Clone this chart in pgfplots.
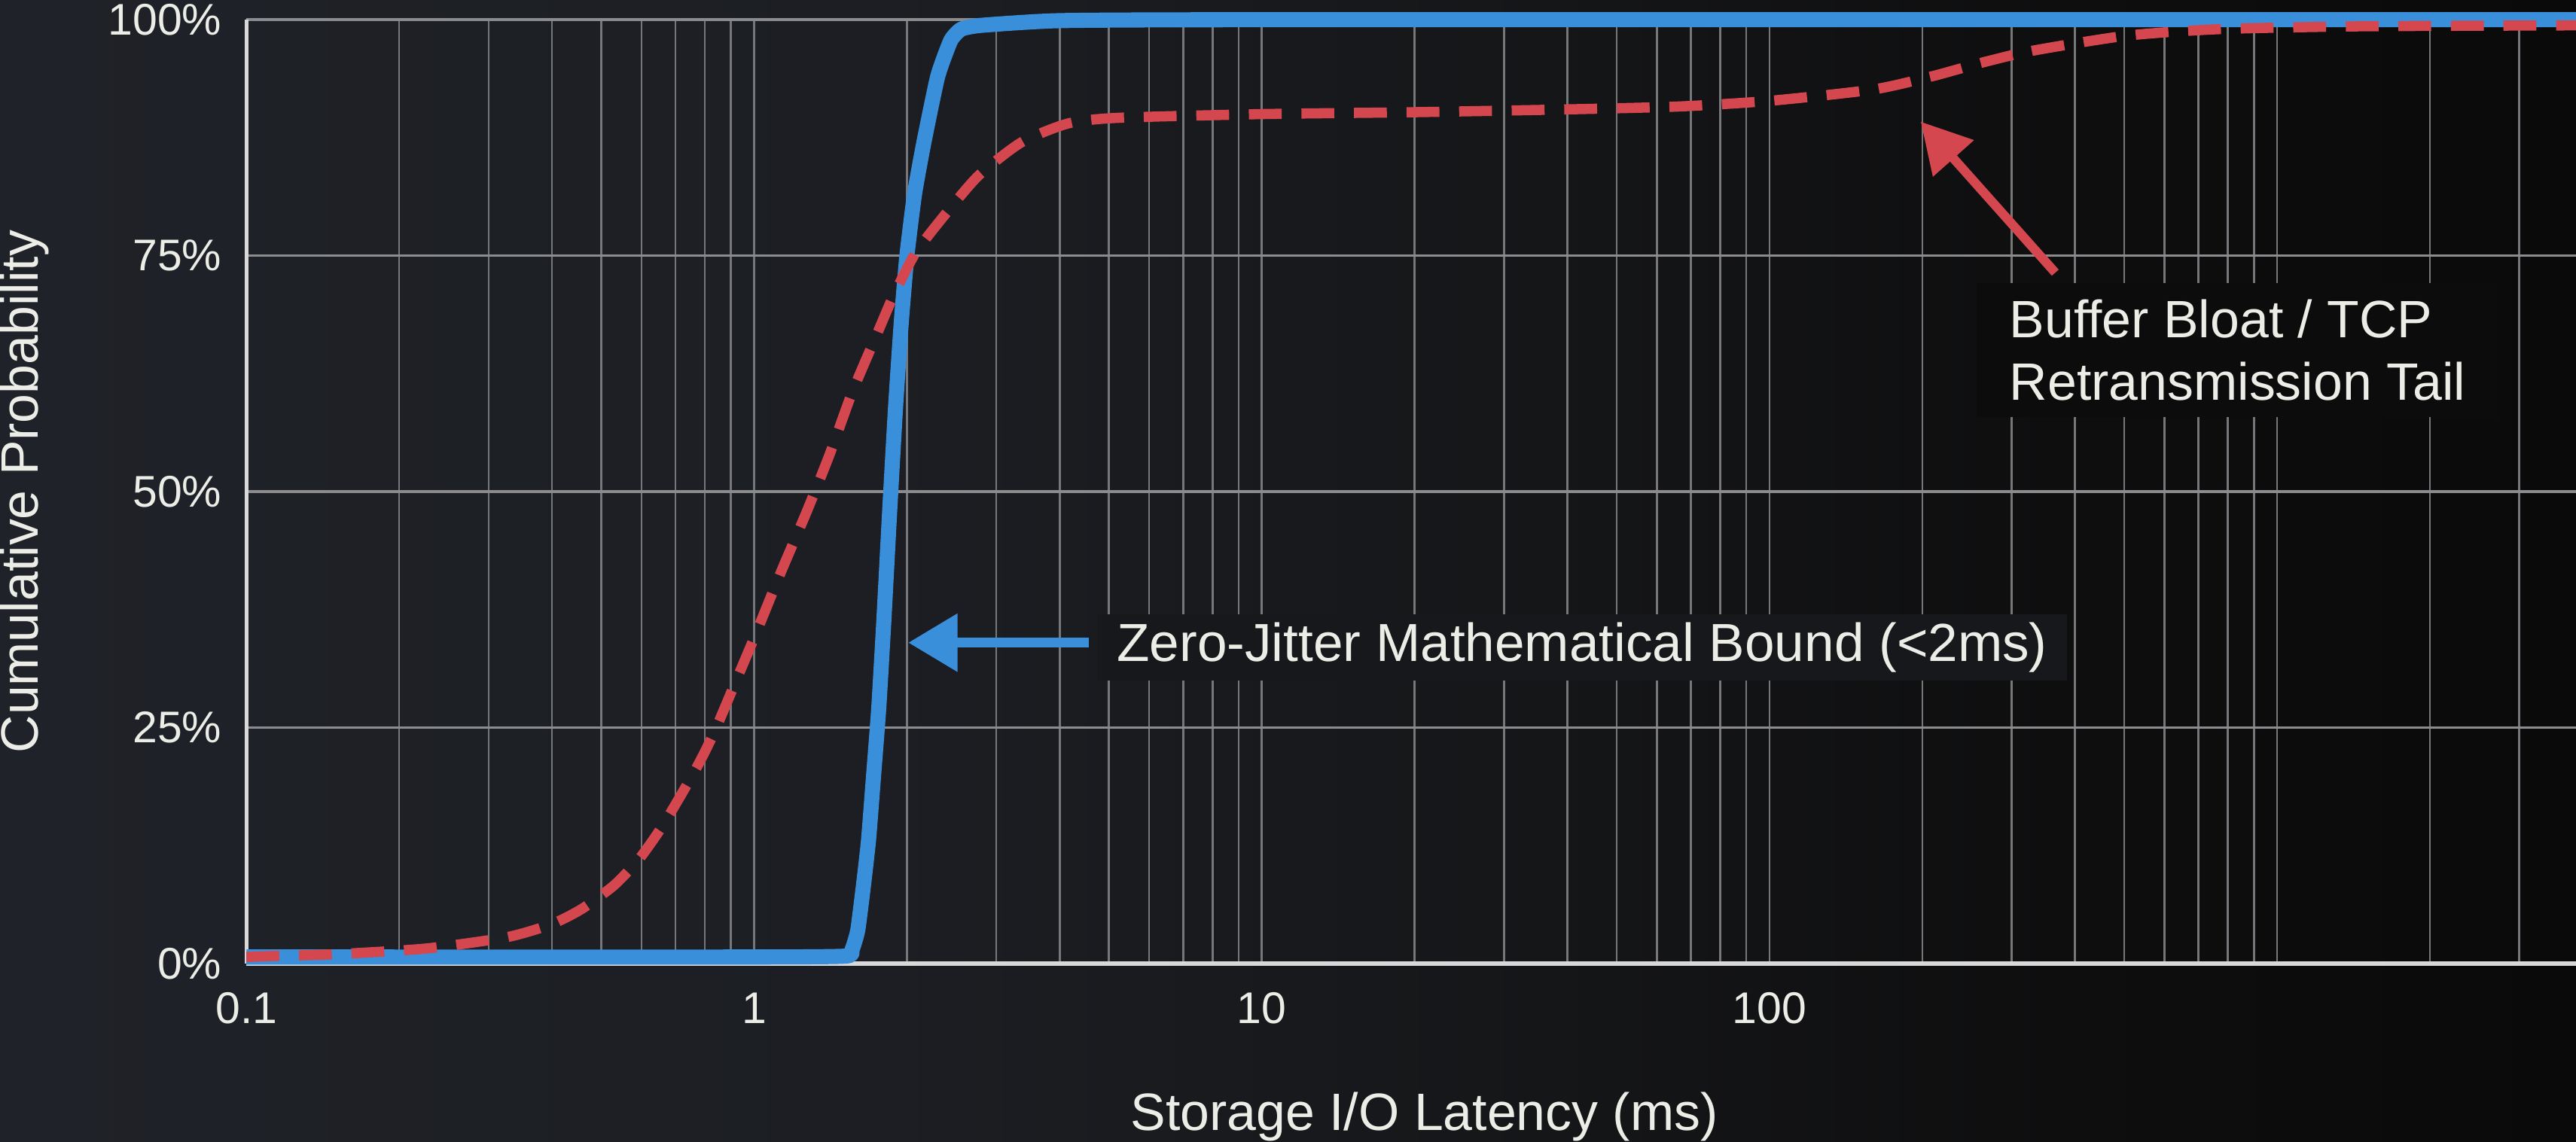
\documentclass[border=0pt]{standalone}
\usepackage{pgfplots}
\pgfplotsset{compat=1.18}
\usepackage{fontspec}
\setmainfont{Liberation Sans}
\usetikzlibrary{arrows.meta}
\definecolor{cblue}{HTML}{3A8FDB}
\definecolor{cred}{HTML}{D5474F}
\definecolor{gridc}{HTML}{75777B}
\definecolor{hgridc}{HTML}{8C8C8E}
\definecolor{txt}{HTML}{EDEDE8}
\definecolor{axc}{HTML}{D8D8D8}
\definecolor{bga}{HTML}{1F2228}
\definecolor{bgb}{HTML}{1C1E23}
\definecolor{bgc}{HTML}{151618}
\definecolor{bgd}{HTML}{0E0E0F}
\definecolor{bge}{HTML}{0A0A0A}
\definecolor{boxA}{HTML}{17181B}
\definecolor{boxB}{HTML}{0C0C0C}
\pgfdeclarehorizontalshading{bgshade}{100bp}{color(0bp)=(bga); color(25bp)=(bga); color(42bp)=(bgb); color(55bp)=(bgc); color(65bp)=(bgd); color(75bp)=(bge); color(100bp)=(bge)}

\pgfplotstableread{
x y
0.1 0.7
1.0 0.7
1.52 0.8
1.56 1.5
1.60 3.5
1.64 8
1.68 13
1.72 20
1.76 27
1.80 36
1.85 48
1.90 59
1.95 68
2.00 75
2.07 81.5
2.16 87
2.30 94
2.44 97.8
2.56 99.0
2.8 99.4
4.0 99.9
10 100
3880 100
}\bluedata

\pgfplotstableread{
x y
0.1 0.7
0.112 0.8
0.15 1.0
0.226 1.6
0.326 2.8
0.40 4.2
0.458 5.8
0.53 8.3
0.594 11.1
0.655 14.3
0.715 17.7
0.78 21.3
0.836 24.6
0.927 30.3
1.0 34.5
1.13 41.5
1.27 47.9
1.41 54
1.56 60.5
1.74 66.5
1.88 70.7
2.08 75.3
2.39 79.5
2.77 83.5
3.36 87
4.15 89
5.19 89.6
10 90
20 90.2
40 90.5
66 90.8
100 91.4
160 92.6
209 94
260 95.4
329 96.7
504 98.3
771 99
1462 99.3
3880 99.4
}\reddata

\begin{document}
\begin{tikzpicture}
\fill[shading=bgshade] (-75pt,-54.15pt) rectangle (709pt,293.35pt);
\begin{axis}[
  at={(0pt,0pt)}, anchor=south west,
  scale only axis, width=709pt, height=287.35pt,
  xmode=log, xmin=0.1, xmax=3880, ymin=0, ymax=100,
  clip=false,
  axis x line*=bottom, axis y line*=left,
  axis line style={-},
  x axis line style={axc, line width=1.2pt},
  y axis line style={axc, line width=1.2pt},
  major tick length=0pt, minor tick length=0pt,
  xtick={0.1,1,10,100}, xticklabels={0.1,1,10,100},
  minor xtick={0.2,0.3,0.4,0.5,0.6,0.7,0.8,0.9,2,3,4,5,6,7,8,9,20,30,40,50,60,70,80,90,200,300,400,500,600,700,800,900,1000,2000,3000},
  ytick={0,25,50,75,100}, yticklabels={0\%,25\%,50\%,75\%,100\%},
  xmajorgrids, xminorgrids, ymajorgrids,
  major x grid style={gridc, line width=0.6pt},
  minor x grid style={gridc, line width=0.6pt},
  major y grid style={hgridc, line width=0.8pt},
  tick label style={text=txt, font=\fontsize{13.5}{16}\selectfont},
  xticklabel style={yshift=-5.3pt},
  yticklabel style={xshift=-4pt},
  xlabel={Storage I/O Latency (ms)},
  ylabel={Cumulative Probability},
  every axis x label/.style={at={(axis description cs:0.5,0)}, anchor=base, yshift=-50.65pt, xshift=4pt},
  every axis y label/.style={at={(axis description cs:0,0.5)}, xshift=-67.5pt, rotate=90, anchor=center},
  label style={text=txt, font=\fontsize{16}{19}\selectfont},
]
\node[anchor=base west, fill=boxA, inner xsep=6pt, inner ysep=2.5pt, text=txt, font=\fontsize{16.3}{19}\selectfont] at (axis cs:4.73,32.0) {Zero-Jitter Mathematical Bound (<2ms)};
\node[anchor=center, fill=boxB, inner xsep=10pt, inner ysep=5pt, align=left, text=txt, font=\fontsize{16}{19.1}\selectfont] at (axis cs:836,65) {Buffer Bloat / TCP\\Retransmission Tail};
\draw[cblue, line width=3pt, -{Triangle[length=15pt,width=17pt]}] (axis cs:4.56,34.0) -- (axis cs:2.012,34.0);
\draw[cred, line width=2.8pt, -{Triangle[length=15pt,width=16pt]}] (axis cs:365.6,73.2) -- (axis cs:198.6,89.2);
\addplot[cblue, line width=4.6pt, line join=round, smooth, tension=0.3, no markers] table[x=x,y=y] {\bluedata};
\addplot[cred, line width=3.1pt, dash pattern=on 10pt off 6pt, smooth, tension=0.4, no markers] table[x=x,y=y] {\reddata};
\end{axis}
\pgfresetboundingbox
\useasboundingbox (-75pt,-54.15pt) rectangle (709pt,293.35pt);
\end{tikzpicture}
\end{document}
